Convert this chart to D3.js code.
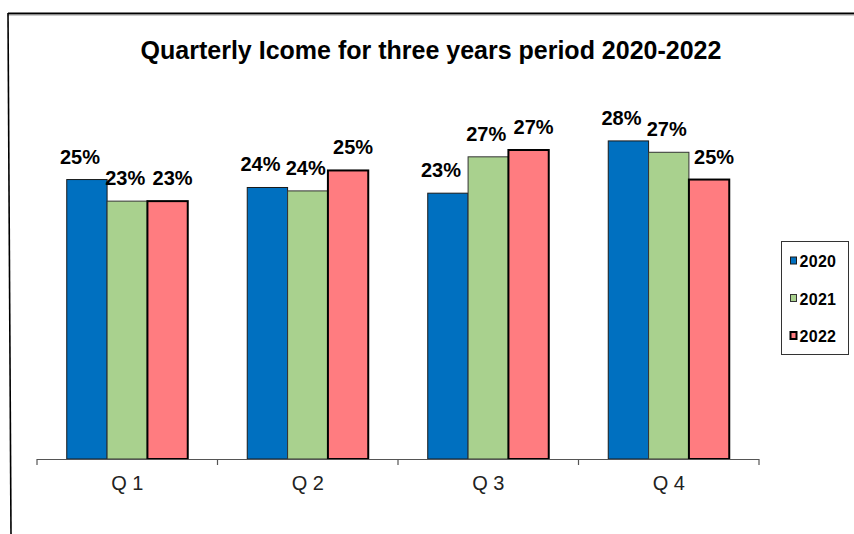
<!DOCTYPE html>
<html>
<head>
<meta charset="utf-8">
<script src="https://cdn.jsdelivr.net/npm/d3@7"></script>
<style>
  html, body { margin: 0; padding: 0; background: #fff; }
  svg { display: block; font-family: Arial, "Liberation Sans", sans-serif; }
</style>
</head>
<body>
<svg id="chart" width="854" height="534"></svg>
<script>
// Quarterly share of each year's income
const quarters = ["Q 1", "Q 2", "Q 3", "Q 4"];
const years = ["2020", "2021", "2022"];
const income2020 = [0.246, 0.239, 0.234, 0.280];
const income2021 = [0.227, 0.236, 0.266, 0.270];
const income2022 = [0.227, 0.254, 0.272, 0.246];
const titleText = "Quarterly Icome for three years period 2020-2022";

const seriesValues = [income2020, income2021, income2022];
const colors = ["#0070C0", "#A9D18E", "#FF7C80"];
const strokes = [{ c: "#1a1a1a", w: 1 }, { c: "#333", w: 1 }, { c: "#000", w: 2 }];
const labelShift = [-7, -2, 5];

const svg = d3.select("#chart");

// frame
svg.append("path").attr("d", "M8,13.5 L854,13.5").attr("stroke", "#000").attr("stroke-width", 2).attr("fill", "none");
svg.append("path").attr("d", "M8,15 L854,15").attr("stroke", "#999").attr("stroke-width", 1).attr("fill", "none");
svg.append("path").attr("d", "M8,13 L11,534").attr("stroke", "#000").attr("stroke-width", 1.6).attr("fill", "none");

// scales
const x0 = d3.scaleBand().domain(quarters).range([37, 759]).padding(0);
const x1 = d3.scaleBand().domain(years).range([0, x0.bandwidth()]).paddingInner(0).paddingOuter(0.7375);
const y = d3.scaleLinear().domain([0, 0.30]).range([459, 118.2]);

// title
svg.append("text")
  .attr("x", 431).attr("y", 59)
  .attr("text-anchor", "middle")
  .attr("font-size", 25).attr("font-weight", "bold").attr("fill", "#000")
  .text(titleText);

// bars
const rows = [];
years.forEach((yr, si) => {
  quarters.forEach((q, qi) => rows.push({ q, yr, si, v: seriesValues[si][qi] }));
});

const g = svg.append("g");
g.selectAll("rect.bar").data(rows).join("rect")
  .attr("class", "bar")
  .attr("x", d => x0(d.q) + x1(d.yr))
  .attr("y", d => y(d.v))
  .attr("width", x1.bandwidth())
  .attr("height", d => y(0) - y(d.v))
  .attr("fill", d => colors[d.si])
  .attr("stroke", d => strokes[d.si].c)
  .attr("stroke-width", d => strokes[d.si].w);

// value labels
const fmt = d3.format(".0%");
g.selectAll("text.val").data(rows).join("text")
  .attr("class", "val")
  .attr("x", d => x0(d.q) + x1(d.yr) + x1.bandwidth() / 2 + labelShift[d.si])
  .attr("y", d => y(d.v) - 16)
  .attr("text-anchor", "middle")
  .attr("font-size", 20).attr("font-weight", "bold").attr("fill", "#000")
  .text(d => fmt(d.v));

// category axis
const axis = svg.append("g");
axis.append("line")
  .attr("x1", x0.range()[0]).attr("x2", x0.range()[1])
  .attr("y1", y(0) + 0.5).attr("y2", y(0) + 0.5)
  .attr("stroke", "#555").attr("stroke-width", 1.2);
const tickXs = quarters.map(q => x0(q)).concat([x0.range()[1]]);
axis.selectAll("line.tick").data(tickXs).join("line")
  .attr("class", "tick")
  .attr("x1", d => d).attr("x2", d => d)
  .attr("y1", y(0)).attr("y2", y(0) + 6)
  .attr("stroke", "#555").attr("stroke-width", 1.2);
axis.selectAll("text").data(quarters).join("text")
  .attr("x", d => x0(d) + x0.bandwidth() / 2)
  .attr("y", 490)
  .attr("text-anchor", "middle")
  .attr("font-size", 20).attr("fill", "#222")
  .text(d => d);

// legend
const legend = svg.append("g");
legend.append("rect")
  .attr("x", 781.5).attr("y", 241.5).attr("width", 67).attr("height", 113)
  .attr("fill", "#fff").attr("stroke", "#333").attr("stroke-width", 1);
const ly = d3.scalePoint().domain(years).range([267, 342]);
const items = legend.selectAll("g.item").data(years).join("g").attr("class", "item");
items.append("rect")
  .attr("x", 790.5).attr("y", d => ly(d) - 10)
  .attr("width", 6).attr("height", 7)
  .attr("fill", (d, i) => colors[i])
  .attr("stroke", (d, i) => strokes[i].c)
  .attr("stroke-width", (d, i) => strokes[i].w);
items.append("text")
  .attr("x", 799.5).attr("y", d => ly(d))
  .attr("font-size", 16).attr("font-weight", "bold").attr("letter-spacing", 0.3)
  .attr("fill", "#000")
  .text(d => d);
</script>
</body>
</html>
